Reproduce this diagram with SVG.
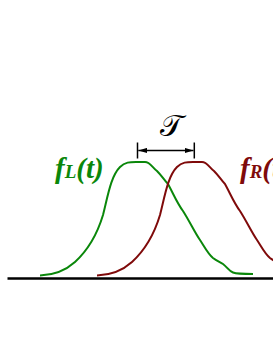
<svg xmlns="http://www.w3.org/2000/svg" width="273" height="353" viewBox="0 0 273 353">
  <style>
    .curve { fill: none; stroke-width: 2; stroke-linejoin: round; stroke-linecap: butt; }
    .green { stroke: #0a870a; }
    .red { stroke: #7f0a0a; }
    .lbl { font-family: "Liberation Serif", "Times New Roman", serif; font-weight: bold; font-style: italic; font-size: 29px; }
    .sub { font-size: 19px; }
    .axis { stroke: #000; stroke-width: 2.5; fill: none; }
    .tick { stroke: #000; stroke-width: 1.5; fill: none; }
  </style>
  <defs>
    <path id="pulse" d="M40,275.5 C55,275 65,271 75,262 C88,250 97,235 103,215 C108,195 111,176 120,167 C125,162 130,162 136,162 L145,162 C150,162 152,167 157,171 C162,176 164,180 168,184 C173,193 177,203 183,211 C190,222 195,233 200,240 C204,246 208,254 213,258 C217,261 220,262 223,264 C227,267 229,271 233,272.5 C237,274 243,274 253,274"/>
    <marker id="ah" viewBox="0 0 10 6" refX="10" refY="3" markerWidth="9" markerHeight="6" markerUnits="userSpaceOnUse" orient="auto-start-reverse">
      <path d="M0,0 L10,3 L0,6 Z" fill="#000"/>
    </marker>
  </defs>
  <g id="axis">
    <line class="axis" x1="7.5" y1="278.5" x2="273" y2="278.5"/>
  </g>
  <g id="curve-fL">
    <use href="#pulse" class="curve green"/>
  </g>
  <g id="curve-fR">
    <use href="#pulse" class="curve red" transform="translate(57,0)"/>
  </g>
  <g id="label-fL">
    <text class="lbl" fill="#0a870a" x="55" y="178">f<tspan class="sub">L</tspan>(t)</text>
  </g>
  <g id="label-fR">
    <text class="lbl" fill="#7f0a0a" x="240" y="178">f<tspan class="sub">R</tspan>(t)</text>
  </g>
  <g id="connectors">
    <line class="tick" x1="137.5" y1="142.5" x2="137.5" y2="158.5"/>
    <line class="tick" x1="194.3" y1="142.5" x2="194.3" y2="158.5"/>
    <line class="tick" x1="138.3" y1="150.5" x2="193.5" y2="150.5" marker-start="url(#ah)" marker-end="url(#ah)"/>
  </g>
  <g id="label-tau">
    <text x="171.5" y="136" text-anchor="middle" font-family="DejaVu Serif, serif" font-size="30px" fill="#000">𝒯</text>
  </g>
</svg>
